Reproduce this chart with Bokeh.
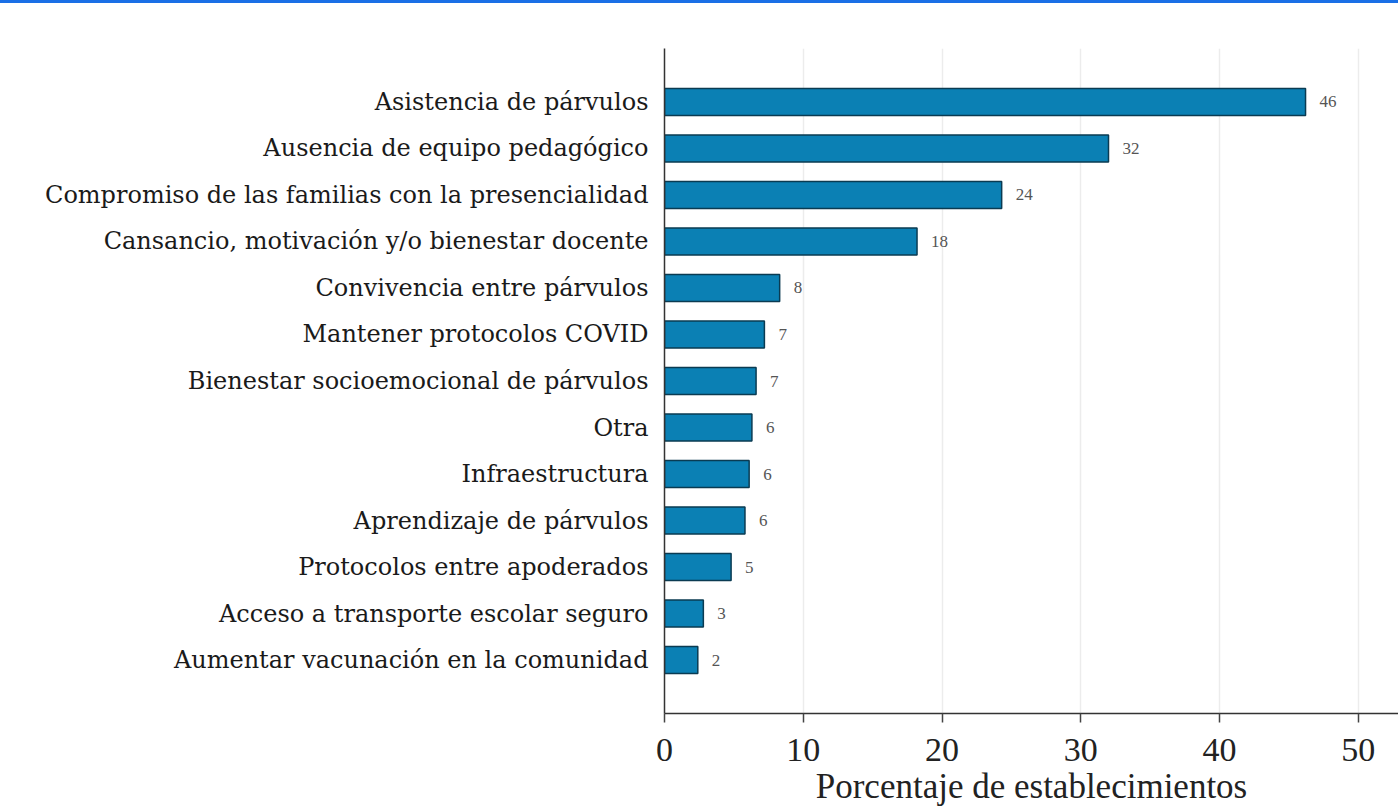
from bokeh.plotting import figure
from bokeh.models import FactorRange, Range1d, ColumnDataSource, LabelSet, FixedTicker, Div
from bokeh.layouts import column
from bokeh.embed import file_html
from bokeh.resources import INLINE

categories = [
    "Asistencia de párvulos",
    "Ausencia de equipo pedagógico",
    "Compromiso de las familias con la presencialidad",
    "Cansancio, motivación y/o bienestar docente",
    "Convivencia entre párvulos",
    "Mantener protocolos COVID",
    "Bienestar socioemocional de párvulos",
    "Otra",
    "Infraestructura",
    "Aprendizaje de párvulos",
    "Protocolos entre apoderados",
    "Acceso a transporte escolar seguro",
    "Aumentar vacunación en la comunidad",
]
values = [46.2, 32.0, 24.3, 18.2, 8.3, 7.2, 6.6, 6.3, 6.1, 5.8, 4.8, 2.8, 2.4]
value_labels = ["46", "32", "24", "18", "8", "7", "7", "6", "6", "6", "5", "3", "2"]
x_ticks = [0, 10, 20, 30, 40, 50]

src = ColumnDataSource(dict(cat=categories, val=values, lab=value_labels))

p = figure(
    width=1398, height=808,
    y_range=FactorRange(factors=list(reversed(categories)), range_padding=0.65,
                        range_padding_units="absolute"),
    x_range=Range1d(0, 52.9),
    output_backend="svg", toolbar_location=None,
    min_border_left=664, min_border_right=0, min_border_top=45, min_border_bottom=98,
    margin=0,
)

p.hbar(y="cat", right="val", left=0, height=0.58, source=src,
       fill_color="#0b80b4", line_color="#0a3b52", line_width=1.5)

labels = LabelSet(x="val", y="cat", text="lab", source=src, x_offset=14,
                  text_baseline="middle", text_align="left",
                  text_font="Liberation Serif", text_font_size="17px", text_color="#555555")
p.add_layout(labels)

p.outline_line_color = None
p.ygrid.grid_line_color = None
p.xgrid.grid_line_color = "#ececec"
p.xgrid.grid_line_width = 1.5
p.xaxis.ticker = FixedTicker(ticks=x_ticks)
p.xaxis.minor_tick_line_color = None
p.xaxis.major_tick_in = 0
p.xaxis.major_tick_out = 9
p.xaxis.major_tick_line_color = "#444444"
p.xaxis.major_tick_line_width = 1.5
p.xaxis.axis_line_color = "#333333"
p.xaxis.axis_line_width = 1.5
p.xaxis.major_label_text_font = "Liberation Serif"
p.xaxis.major_label_text_font_size = "34px"
p.xaxis.major_label_text_color = "#222222"
p.xaxis.major_label_standoff = 16
p.xaxis.axis_label = "Porcentaje de establecimientos"
p.xaxis.axis_label_text_font = "Liberation Serif"
p.xaxis.axis_label_text_font_size = "35px"
p.xaxis.axis_label_text_font_style = "normal"
p.xaxis.axis_label_text_color = "#222222"
p.xaxis.axis_label_standoff = 3

p.yaxis.major_tick_in = 0
p.yaxis.major_tick_out = 0
p.yaxis.minor_tick_line_color = None
p.yaxis.axis_line_color = "#333333"
p.yaxis.axis_line_width = 1.5
p.yaxis.major_label_text_font = "DejaVu Serif"
p.yaxis.major_label_text_font_size = "24px"
p.yaxis.major_label_text_color = "#1a1a1a"
p.yaxis.major_label_standoff = 16

bar = Div(text="", width=1398, height=3, margin=0,
          styles={"background-color": "#1a6fe6"})

layout = column(bar, p, spacing=0, margin=0)
open("out.html", "w").write(file_html(layout, INLINE))
